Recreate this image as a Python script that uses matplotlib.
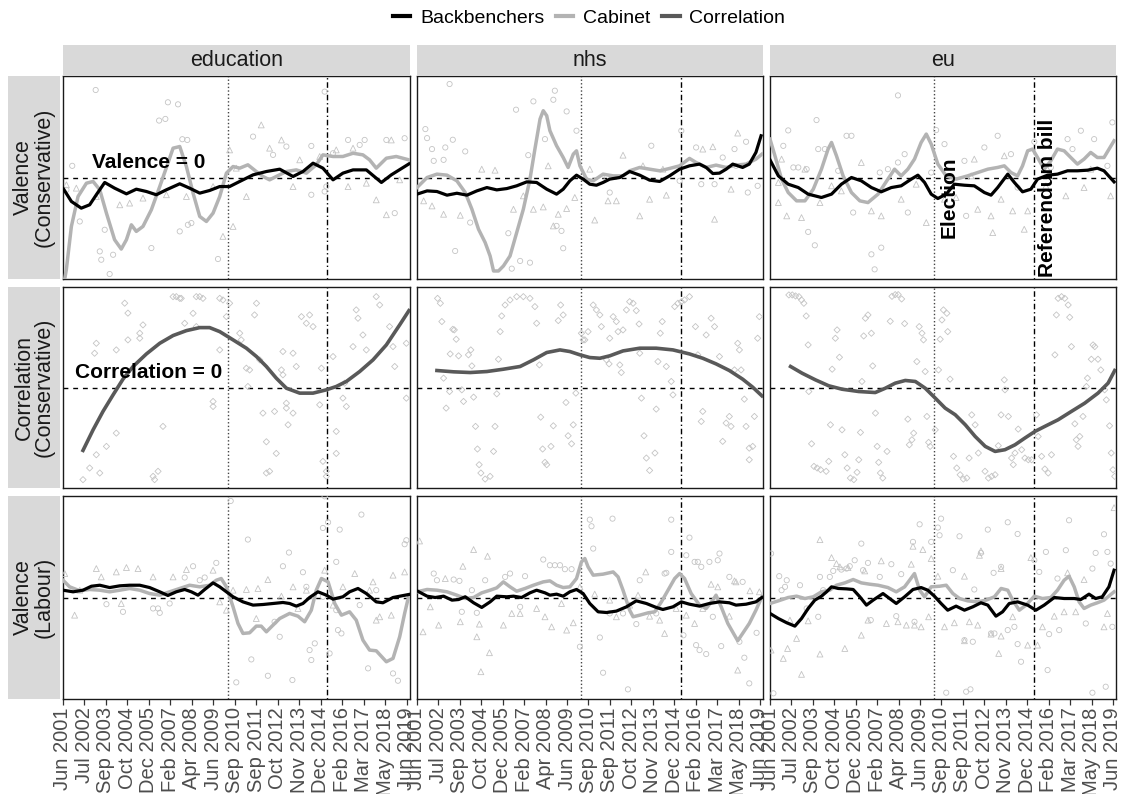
import matplotlib
matplotlib.use('Agg')
import matplotlib.pyplot as plt
from matplotlib.lines import Line2D
from matplotlib.patches import Rectangle

plt.rcParams['font.family'] = ['Liberation Sans', 'DejaVu Sans']

# ---------------- data ----------------
topics = ['education', 'nhs', 'eu']
row_labels = ['Valence\n(Conservative)', 'Correlation\n(Conservative)', 'Valence\n(Labour)']
tick_labels = ['Jun 2001', 'Jul 2002', 'Sep 2003', 'Oct 2004', 'Dec 2005', 'Feb 2007',
               'Apr 2008', 'Jun 2009', 'Sep 2010', 'Sep 2011', 'Oct 2012', 'Nov 2013',
               'Dec 2014', 'Feb 2016', 'Mar 2017', 'May 2018', 'Jun 2019']
election_x = 7.67
referendum_x = 12.3

# Row 1: Valence (Conservative) -- smoothed lines (x index, value)
edu_con_bb = [(0, -0.105), (0.39, -0.236), (0.85, -0.302), (1.24, -0.269), (1.55, -0.170), (1.94, -0.049),
              (2.40, -0.105), (2.95, -0.161), (3.41, -0.115), (3.88, -0.138), (4.34, -0.170), (4.81, -0.121),
              (5.43, -0.062), (5.89, -0.105), (6.36, -0.154), (6.82, -0.128), (7.29, -0.089), (7.75, -0.089),
              (8.22, -0.039), (8.84, 0.026), (9.46, 0.059), (10.08, 0.082), (10.70, 0.010), (11.16, 0.059),
              (11.63, 0.141), (12.09, 0.092), (12.56, -0.023), (13.02, 0.043), (13.49, 0.075), (14.11, 0.075),
              (14.81, -0.049), (15.27, 0.026), (16.09, 0.134)]
edu_con_cab = [(0.08, -1.0), (0.155, -0.908), (0.39, -0.482), (0.70, -0.187), (1.09, -0.056), (1.40, -0.039),
               (1.71, -0.121), (2.02, -0.351), (2.40, -0.613), (2.71, -0.705), (2.95, -0.613), (3.18, -0.466),
               (3.41, -0.531), (3.72, -0.482), (4.11, -0.318), (4.50, -0.089), (4.88, 0.141), (5.12, 0.289),
               (5.43, 0.305), (5.74, 0.108), (6.05, -0.154), (6.36, -0.384), (6.67, -0.433), (6.98, -0.351),
               (7.29, -0.187), (7.60, 0.043), (7.91, 0.108), (8.22, 0.092), (8.60, 0.125), (8.99, 0.059),
               (9.30, 0.010), (9.61, -0.023), (9.92, 0.010), (10.39, 0.059), (10.85, 0.075), (11.32, 0.043),
               (11.78, 0.125), (12.09, 0.223), (12.56, 0.207), (13.02, 0.207), (13.49, 0.239), (13.95, 0.223),
               (14.26, 0.174), (14.57, 0.092), (15.04, 0.190), (15.50, 0.207), (16.09, 0.174)]
nhs_con_bb = [(0, -0.164), (0.47, -0.132), (0.93, -0.138), (1.40, -0.174), (1.86, -0.155), (2.33, -0.174),
              (2.79, -0.132), (3.26, -0.099), (3.72, -0.122), (4.19, -0.109), (4.65, -0.082), (5.12, -0.043),
              (5.58, -0.049), (6.05, -0.115), (6.51, -0.164), (6.82, -0.115), (7.13, -0.033), (7.44, 0.023),
              (7.75, -0.016), (8.06, -0.066), (8.37, -0.076), (8.68, -0.049), (8.99, -0.016), (9.46, 0.0),
              (9.92, 0.059), (10.39, 0.023), (10.85, -0.026), (11.32, -0.039), (11.78, 0.016), (12.25, 0.082),
              (12.71, 0.115), (13.18, 0.132), (13.49, 0.099), (13.80, 0.039), (14.11, 0.043), (14.42, 0.082),
              (14.73, 0.132), (15.19, 0.099), (15.50, 0.132), (15.81, 0.247), (16.05, 0.411)]
nhs_con_cab = [(0, -0.099), (0.47, 0.0), (0.93, 0.033), (1.40, 0.023), (1.86, -0.033), (2.25, -0.148),
               (2.56, -0.312), (2.87, -0.510), (3.18, -0.641), (3.41, -0.773), (3.57, -0.921), (3.80, -0.921),
               (4.03, -0.872), (4.34, -0.773), (4.65, -0.543), (4.96, -0.313), (5.27, -0.016), (5.50, 0.280),
               (5.74, 0.576), (5.89, 0.658), (6.05, 0.609), (6.20, 0.461), (6.51, 0.313), (6.82, 0.197),
               (7.05, 0.099), (7.29, 0.230), (7.44, 0.263), (7.60, 0.115), (7.91, -0.016), (8.22, -0.033),
               (8.68, 0.033), (9.15, 0.016), (9.61, 0.016), (9.92, 0.066), (10.39, 0.099), (10.85, 0.082),
               (11.32, 0.066), (11.78, 0.089), (12.25, 0.115), (12.71, 0.188), (13.02, 0.148), (13.49, 0.099),
               (13.95, 0.122), (14.42, 0.099), (14.88, 0.122), (15.35, 0.132), (15.81, 0.181), (16.09, 0.230)]
eu_con_bb = [(0, 0.174), (0.39, 0.016), (0.85, -0.066), (1.32, -0.099), (1.78, -0.164), (2.40, -0.197),
             (2.87, -0.164), (3.33, -0.066), (3.80, 0.0), (4.26, -0.033), (4.73, -0.099), (5.19, -0.141),
             (5.66, -0.099), (6.12, -0.082), (6.59, -0.016), (6.90, 0.023), (7.21, -0.049), (7.52, -0.164),
             (7.83, -0.207), (8.22, -0.164), (8.60, -0.066), (9.07, -0.076), (9.53, -0.082), (10.0, -0.148),
             (10.31, -0.174), (10.62, -0.099), (11.09, 0.033), (11.40, -0.049), (11.78, -0.141), (12.17, -0.115),
             (12.48, -0.016), (12.95, 0.023), (13.41, 0.033), (13.88, 0.066), (14.34, 0.066), (14.81, 0.072),
             (15.27, 0.092), (15.58, 0.066), (16.05, -0.043)]
eu_con_cab = [(0, 0.378), (0.23, 0.214), (0.54, -0.016), (0.85, -0.148), (1.24, -0.230), (1.63, -0.230),
              (2.02, -0.115), (2.40, 0.082), (2.71, 0.280), (2.87, 0.345), (3.10, 0.214), (3.41, 0.016),
              (3.80, -0.148), (4.19, -0.230), (4.57, -0.247), (5.04, -0.164), (5.50, -0.016), (5.81, 0.082),
              (6.12, 0.016), (6.43, 0.082), (6.74, 0.181), (7.05, 0.345), (7.29, 0.428), (7.52, 0.329),
              (7.83, 0.132), (8.22, 0.016), (8.68, -0.016), (9.22, 0.016), (9.69, 0.049), (10.16, 0.082),
              (10.62, 0.099), (10.93, 0.115), (11.24, 0.049), (11.55, 0.016), (11.78, 0.115), (12.02, 0.263),
              (12.25, 0.280), (12.48, 0.197), (12.79, 0.082), (13.10, 0.164), (13.41, 0.280), (13.72, 0.263),
              (14.03, 0.197), (14.34, 0.132), (14.65, 0.181), (14.96, 0.247), (15.27, 0.197), (15.58, 0.197),
              (16.05, 0.362)]

# Row 2: Correlation (Conservative)
edu_corr = [(0.93, -0.626), (1.40, -0.421), (1.86, -0.238), (2.33, -0.073), (2.79, 0.083), (3.26, 0.209),
            (3.88, 0.334), (4.50, 0.440), (5.12, 0.517), (5.74, 0.566), (6.36, 0.596), (6.82, 0.596),
            (7.29, 0.556), (7.91, 0.474), (8.53, 0.391), (9.00, 0.308), (9.46, 0.209), (9.92, 0.093),
            (10.39, -0.007), (11.01, -0.056), (11.63, -0.056), (12.25, -0.023), (12.71, 0.010), (13.18, 0.060),
            (13.80, 0.159), (14.42, 0.275), (15.04, 0.424), (15.66, 0.623), (16.09, 0.765)]
nhs_corr = [(0.93, 0.169), (1.71, 0.156), (2.48, 0.149), (3.26, 0.159), (4.03, 0.182), (4.81, 0.209),
            (5.43, 0.275), (6.05, 0.348), (6.67, 0.374), (7.13, 0.358), (7.60, 0.325), (8.06, 0.298),
            (8.53, 0.291), (8.99, 0.315), (9.61, 0.364), (10.39, 0.391), (11.16, 0.391), (11.94, 0.374),
            (12.71, 0.334), (13.33, 0.291), (13.95, 0.235), (14.57, 0.169), (15.19, 0.083), (15.66, 0.003),
            (16.09, -0.083)]
eu_corr = [(0.96, 0.209), (1.50, 0.142), (2.12, 0.076), (2.74, 0.017), (3.36, -0.017), (4.14, -0.040),
           (4.91, -0.050), (5.38, -0.007), (5.84, 0.043), (6.31, 0.070), (6.78, 0.060), (7.24, -0.007),
           (7.71, -0.106), (8.17, -0.205), (8.64, -0.271), (9.11, -0.371), (9.57, -0.487), (10.04, -0.586),
           (10.50, -0.636), (10.96, -0.619), (11.43, -0.570), (11.89, -0.503), (12.36, -0.437), (12.82, -0.387),
           (13.44, -0.321), (14.06, -0.238), (14.68, -0.156), (15.30, -0.056), (15.77, 0.043), (16.08, 0.169)]

# Row 3: Valence (Labour)
edu_lab_bb = [(0, 0.072), (0.47, 0.056), (0.93, 0.072), (1.32, 0.111), (1.71, 0.121), (2.17, 0.098),
              (2.64, 0.115), (3.10, 0.121), (3.57, 0.121), (4.03, 0.098), (4.50, 0.056), (4.88, 0.020),
              (5.27, 0.056), (5.66, 0.079), (5.97, 0.056), (6.28, 0.023), (6.59, 0.079), (6.98, 0.144),
              (7.29, 0.105), (7.60, 0.056), (7.91, 0.007), (8.37, -0.043), (8.84, -0.075), (9.30, -0.069),
              (9.77, -0.059), (10.23, -0.049), (10.54, -0.059), (10.85, -0.085), (11.16, -0.059), (11.47, 0.0),
              (11.86, 0.056), (12.25, 0.023), (12.56, -0.016), (13.02, 0.007), (13.33, 0.056), (13.72, 0.089),
              (14.11, 0.039), (14.57, -0.043), (14.88, -0.052), (15.35, 0.0), (16.09, 0.030)]
edu_lab_cab = [(0, 0.170), (0.31, 0.105), (0.78, 0.066), (1.24, 0.079), (1.71, 0.072), (2.17, 0.056),
               (2.64, 0.072), (3.10, 0.089), (3.57, 0.072), (4.03, 0.039), (4.50, 0.023), (4.96, 0.056),
               (5.43, 0.089), (5.89, 0.121), (6.36, 0.105), (6.82, 0.121), (7.13, 0.170), (7.36, 0.187),
               (7.60, 0.105), (7.91, -0.092), (8.14, -0.256), (8.37, -0.354), (8.68, -0.348), (8.99, -0.282),
               (9.22, -0.282), (9.46, -0.338), (9.69, -0.289), (10.08, -0.207), (10.54, -0.157), (10.93, -0.184),
               (11.24, -0.239), (11.55, -0.125), (11.78, 0.072), (12.02, 0.187), (12.33, 0.154), (12.64, -0.059),
               (12.95, -0.174), (13.33, -0.141), (13.64, -0.223), (13.95, -0.420), (14.26, -0.518),
               (14.57, -0.525), (15.04, -0.633), (15.35, -0.600), (15.66, -0.387), (15.89, -0.157), (16.09, 0.023)]
nhs_lab_bb = [(0, 0.066), (0.47, 0.013), (0.85, 0.0), (1.24, 0.013), (1.63, -0.026), (1.94, -0.020),
              (2.25, 0.007), (2.64, -0.052), (3.02, -0.098), (3.41, -0.043), (3.72, 0.013), (4.19, 0.007),
              (4.50, 0.013), (4.88, 0.0), (5.27, 0.046), (5.58, 0.072), (5.97, 0.046), (6.20, 0.023),
              (6.51, 0.033), (6.82, 0.013), (7.13, 0.056), (7.44, 0.079), (7.75, 0.039), (8.06, -0.059),
              (8.45, -0.141), (8.84, -0.148), (9.30, -0.134), (9.77, -0.092), (10.23, -0.033), (10.70, -0.059),
              (11.16, -0.098), (11.47, -0.118), (11.94, -0.092), (12.33, -0.043), (12.71, -0.066),
              (13.18, -0.085), (13.64, -0.059), (14.11, -0.043), (14.57, -0.052), (14.88, -0.075),
              (15.35, -0.066), (15.81, -0.043), (16.09, 0.0)]
nhs_lab_cab = [(0, 0.056), (0.47, 0.079), (0.93, 0.072), (1.40, 0.056), (1.86, 0.023), (2.25, -0.010),
               (2.64, 0.0), (3.02, 0.046), (3.41, 0.072), (3.72, 0.095), (4.03, 0.154), (4.34, 0.105),
               (4.65, 0.062), (5.04, 0.089), (5.43, 0.121), (5.89, 0.154), (6.20, 0.164), (6.51, 0.121),
               (6.82, 0.098), (7.13, 0.105), (7.44, 0.187), (7.67, 0.351), (7.83, 0.384), (7.98, 0.302),
               (8.22, 0.220), (8.68, 0.230), (9.15, 0.252), (9.38, 0.203), (9.61, 0.072), (9.92, -0.125),
               (10.08, -0.190), (10.39, -0.174), (10.78, -0.151), (11.09, -0.141), (11.40, -0.043),
               (11.71, 0.072), (12.02, 0.187), (12.25, 0.236), (12.48, 0.187), (12.79, 0.039), (13.18, -0.075),
               (13.49, -0.108), (13.80, -0.026), (13.95, 0.023), (14.19, -0.092), (14.50, -0.256),
               (14.81, -0.371), (14.96, -0.426), (15.19, -0.354), (15.50, -0.256), (15.81, -0.125), (16.09, 0.007)]
eu_lab_bb = [(0, -0.157), (0.39, -0.207), (0.78, -0.249), (1.16, -0.282), (1.47, -0.207), (1.78, -0.108),
             (2.09, -0.026), (2.40, 0.013), (2.64, 0.056), (2.87, 0.105), (3.18, 0.089), (3.57, 0.085),
             (3.88, 0.079), (4.19, 0.007), (4.50, -0.075), (4.81, -0.026), (5.27, 0.039), (5.58, -0.010),
             (5.89, -0.059), (6.28, 0.007), (6.67, 0.079), (7.05, 0.098), (7.36, 0.072), (7.67, 0.013),
             (7.98, -0.059), (8.29, -0.125), (8.68, -0.085), (9.07, -0.125), (9.46, -0.092), (9.84, -0.052),
             (10.16, -0.075), (10.54, -0.184), (10.85, -0.141), (11.16, -0.059), (11.55, -0.043),
             (12.02, -0.075), (12.40, -0.125), (12.79, -0.075), (13.26, 0.0), (13.72, -0.010), (14.19, -0.010),
             (14.50, -0.020), (14.88, 0.033), (15.19, -0.010), (15.50, 0.007), (15.81, 0.105), (16.05, 0.269)]
eu_lab_cab = [(0, -0.059), (0.39, -0.033), (0.85, 0.0), (1.24, 0.013), (1.63, -0.010), (2.02, 0.007),
              (2.40, 0.056), (2.79, 0.072), (3.10, 0.121), (3.49, 0.144), (3.88, 0.177), (4.26, 0.144),
              (4.65, 0.131), (5.04, 0.121), (5.50, 0.098), (5.89, 0.056), (6.28, 0.105), (6.51, 0.170),
              (6.74, 0.236), (6.98, 0.072), (7.21, 0.007), (7.52, 0.105), (7.91, 0.111), (8.22, 0.121),
              (8.53, 0.039), (8.84, -0.010), (9.22, -0.033), (9.69, -0.043), (10.08, -0.026), (10.47, 0.007),
              (10.78, 0.089), (11.09, 0.072), (11.32, -0.026), (11.63, -0.125), (11.94, -0.075), (12.33, 0.013),
              (12.71, -0.010), (13.10, 0.0), (13.41, 0.072), (13.72, 0.170), (13.95, 0.210), (14.19, 0.105),
              (14.42, -0.043), (14.65, -0.108), (14.96, -0.075), (15.27, -0.052), (15.58, -0.026), (16.05, 0.056)]

# Raw observations (approximate): circles = cabinet, triangles = backbenchers, diamonds = correlations
edu_con_cab_pts = [(1.52, 0.862), (4.88, 0.741), (5.35, 0.721), (4.76, 0.577), (4.47, 0.561), (5.55, 0.377),
                   (5.78, 0.370), (0.43, 0.115), (0.78, -0.433), (0.16, -0.121), (1.94, -0.515), (1.71, -0.728),
                   (2.33, -0.761), (1.78, -0.810), (2.17, -0.951), (4.11, -0.695), (5.43, -0.531), (5.81, -0.466),
                   (5.97, -0.449), (7.21, -0.803), (8.84, 0.403), (9.77, 0.223), (10.39, 0.305), (11.55, 0.311),
                   (12.17, 0.846), (12.25, -0.089), (12.56, 0.239), (13.26, 0.370), (13.80, 0.321), (14.03, 0.370),
                   (15.04, 0.370), (15.43, -0.351), (15.89, 0.387), (12.17, -0.138), (11.55, -0.170)]
edu_con_bb_pts = [(0.16, -0.072), (0.62, -0.105), (1.55, -0.187), (2.64, -0.269), (3.10, -0.252), (3.72, -0.203),
                  (4.81, -0.170), (5.74, -0.187), (6.98, -0.089), (7.75, 0.272), (7.91, -0.482), (8.06, 0.092),
                  (8.53, -0.187), (9.22, 0.518), (9.61, 0.289), (10.16, 0.370), (11.01, 0.174), (11.94, 0.207),
                  (12.71, 0.272), (13.49, 0.289), (14.11, -0.056), (14.57, -0.220), (15.04, -0.367), (15.66, -0.023),
                  (7.44, -0.580), (10.70, -0.089), (13.26, -0.089), (15.27, 0.370)]
nhs_con_cab_pts = [(1.52, 0.921), (0.39, 0.477), (0.47, 0.388), (1.67, 0.372), (0.70, 0.280), (1.32, 0.296),
                   (2.25, 0.257), (0.78, 0.164), (1.24, 0.174), (5.19, 0.220), (5.43, 0.750), (6.36, 0.766),
                   (6.43, 0.855), (6.98, 0.651), (4.62, 0.668), (5.97, 0.378), (2.48, -0.444), (1.78, -0.724),
                   (4.26, -0.549), (4.42, -0.898), (4.81, -0.822), (5.27, -0.839), (6.82, -0.697), (6.74, -0.526),
                   (6.51, -0.477), (7.44, 0.461), (8.84, 0.0), (8.99, -0.148), (10.93, 0.313), (12.33, 0.461),
                   (12.25, -0.033), (13.02, 0.296), (14.81, 0.280), (15.35, 0.352), (15.89, -0.082), (15.43, -0.148),
                   (13.88, -0.066), (13.26, -0.066), (14.26, 0.197), (14.88, 0.115)]
nhs_con_bb_pts = [(0.31, -0.230), (0.70, -0.280), (1.24, -0.362), (2.02, -0.372), (3.02, 0.082), (3.64, 0.072),
                  (4.50, -0.313), (4.96, -0.181), (5.43, -0.313), (5.89, -0.290), (6.12, 0.115), (6.59, -0.362),
                  (6.36, -0.477), (6.98, -0.306), (7.36, -0.197), (8.29, -0.419), (8.91, -0.230), (9.30, -0.230),
                  (9.61, 0.220), (10.39, -0.378), (10.85, -0.214), (11.63, -0.174), (13.33, 0.280), (13.80, 0.303),
                  (14.96, 0.438), (13.88, -0.411), (14.65, -0.115), (11.47, 0.082), (10.54, 0.115), (8.06, 0.082)]
eu_con_cab_pts = [(5.97, 0.809), (2.17, 0.566), (0.85, 0.464), (3.57, 0.411), (3.80, 0.411), (0.62, 0.312),
                  (2.25, 0.280), (2.56, 0.280), (6.28, 0.230), (5.97, 0.148), (5.50, 0.082), (1.71, 0.082),
                  (1.09, 0.099), (1.32, 0.099), (5.12, 0.049), (3.18, 0.066), (6.43, -0.345), (3.88, -0.345),
                  (1.78, -0.536), (2.09, -0.668), (4.73, -0.757), (5.19, -0.691), (4.88, -0.905), (7.75, 0.467),
                  (8.14, 0.329), (9.07, 0.164), (10.0, 0.296), (10.62, 0.411), (11.24, 0.230), (12.33, 0.352),
                  (13.88, 0.378), (14.50, 0.461), (15.12, 0.378), (15.97, 0.543), (14.11, 0.280), (15.74, 0.115),
                  (9.15, -0.378), (7.52, 0.049), (11.55, -0.099), (13.10, 0.099)]
eu_con_bb_pts = [(0.54, 0.181), (0.39, -0.247), (0.78, -0.378), (1.47, -0.395), (1.63, 0.082), (2.33, -0.247),
                 (2.87, -0.082), (3.33, -0.132), (4.26, 0.148), (4.73, -0.329), (5.19, -0.378), (6.12, -0.214),
                 (6.82, -0.066), (7.29, -0.444), (8.14, -0.214), (8.68, -0.197), (9.38, 0.016), (9.69, -0.313),
                 (10.31, -0.378), (10.78, -0.214), (11.32, -0.329), (12.02, -0.329), (10.39, -0.543), (11.86, -0.510),
                 (12.87, -0.082), (13.80, -0.181), (14.65, -0.099), (15.89, -0.181), (10.93, 0.214), (9.53, 0.181),
                 (14.96, 0.082), (0.39, -0.049)]

edu_corr_pts = [(2.87, 0.839), (3.02, 0.740), (5.12, 0.904), (5.27, 0.904), (5.43, 0.887), (5.50, 0.887),
                (6.20, 0.904), (6.36, 0.904), (6.51, 0.887), (7.29, 0.887), (7.44, 0.871), (7.75, 0.838),
                (9.00, 0.838), (8.91, 0.722), (7.60, 0.705), (6.05, 0.738), (3.72, 0.623), (3.57, 0.540),
                (2.48, 0.374), (3.02, 0.474), (1.55, 0.440), (1.47, 0.341), (3.57, 0.490), (5.66, 0.639),
                (6.20, 0.606), (7.29, 0.374), (8.22, 0.540), (8.29, 0.474), (8.53, 0.192), (8.68, 0.175),
                (9.15, 0.275), (10.23, 0.358), (10.16, 0.175), (10.23, 0.126), (10.70, 0.341), (10.85, 0.209),
                (11.09, 0.705), (11.47, 0.722), (11.32, 0.639), (11.63, 0.606), (12.02, 0.192), (12.56, 0.308),
                (13.64, 0.772), (14.57, 0.904), (14.73, 0.821), (13.72, 0.689), (13.49, 0.407), (13.95, 0.523),
                (14.11, 0.374), (15.19, 0.606), (15.35, 0.407), (15.43, 0.209), (15.97, 0.440), (15.97, -0.106),
                (13.02, -0.106), (13.18, -0.189), (12.71, -0.437), (11.94, -0.172), (10.39, -0.156),
                (10.39, -0.205), (10.47, -0.371), (9.84, -0.238), (9.30, -0.255), (10.70, -0.255), (6.98, -0.189),
                (6.98, -0.139), (4.65, -0.387), (2.48, -0.454), (2.02, -0.586), (1.55, -0.669), (1.71, -0.851),
                (1.24, -0.801), (0.93, -0.917), (4.19, -0.884), (4.26, -0.917), (4.42, -0.834), (9.61, -0.834),
                (9.46, -0.851), (9.46, -0.540), (9.92, -0.656), (12.09, -0.735), (12.25, -0.834), (12.71, -0.656),
                (12.25, -0.884), (13.10, 0.043), (8.60, 0.010)]
nhs_corr_pts = [(0.96, 0.887), (1.09, 0.838), (1.16, 0.656), (1.67, 0.579), (1.74, 0.573), (1.83, 0.480),
                (1.55, 0.334), (1.94, 0.315), (2.40, 0.325), (2.51, 0.374), (2.56, 0.215), (1.24, 0.093),
                (1.52, -0.040), (2.09, -0.023), (2.17, -0.139), (2.64, -0.096), (1.36, -0.205), (2.73, -0.387),
                (2.82, -0.612), (3.57, -0.636), (2.90, -0.768), (2.98, -0.851), (3.18, -0.911), (3.41, -0.884),
                (3.64, -0.387), (3.72, -0.063), (3.80, 0.281), (3.88, 0.556), (3.95, 0.712), (4.11, 0.821),
                (4.34, 0.871), (4.65, 0.904), (4.96, 0.904), (5.27, 0.887), (5.50, 0.805), (5.58, 0.639),
                (5.71, 0.225), (5.77, -0.295), (5.86, -0.612), (5.97, -0.745), (6.05, -0.768), (6.25, -0.586),
                (6.36, -0.381), (6.59, 0.666), (6.70, 0.821), (6.82, 0.722), (6.95, -0.149), (7.05, -0.480),
                (7.21, -0.560), (7.29, -0.371), (7.41, -0.056), (7.67, 0.540), (7.83, 0.474), (7.98, 0.556),
                (7.75, 0.474), (8.22, 0.821), (8.37, 0.772), (8.53, 0.722), (8.60, 0.606), (8.84, 0.275),
                (8.96, 0.235), (8.99, 0.490), (9.15, 0.705), (9.30, 0.656), (9.38, 0.556), (9.61, 0.573),
                (9.46, 0.225), (9.53, 0.149), (9.77, 0.772), (9.92, 0.854), (10.08, 0.838), (10.23, 0.765),
                (10.36, 0.632), (10.39, 0.341), (10.47, -0.106), (10.59, -0.480), (10.70, -0.702), (10.85, -0.825),
                (11.10, -0.652), (11.16, -0.215), (11.24, 0.258), (11.35, 0.540), (11.44, 0.656), (11.63, 0.209),
                (11.86, 0.060), (11.94, -0.073), (12.02, 0.805), (12.17, 0.838), (12.33, 0.854), (12.48, 0.871),
                (12.71, 0.904), (12.99, 0.606), (13.10, 0.325), (13.33, -0.238), (13.26, -0.338), (13.49, 0.523),
                (13.72, 0.689), (13.88, 0.606), (14.11, 0.308), (14.26, -0.536), (14.42, -0.354), (14.65, -0.387),
                (14.57, -0.288), (14.81, 0.175), (14.96, 0.440), (15.04, 0.374), (15.12, 0.175), (15.27, -0.116),
                (15.35, -0.387), (15.50, -0.603), (15.66, -0.586), (15.50, -0.719), (15.74, -0.288), (15.89, 0.490),
                (15.97, 0.705)]
eu_corr_pts = [(0.88, 0.921), (1.04, 0.921), (1.19, 0.911), (1.35, 0.904), (1.47, 0.871), (1.58, 0.838),
               (1.69, 0.712), (1.78, 0.424), (2.90, 0.182), (3.05, 0.490), (3.13, 0.573), (3.24, 0.301),
               (4.37, 0.513), (4.45, 0.689), (4.57, 0.722), (4.73, 0.540), (4.79, 0.215), (4.29, 0.060),
               (5.69, 0.907), (5.84, 0.924), (5.98, 0.924), (6.14, 0.881), (5.61, 0.659), (6.28, 0.636),
               (6.85, 0.258), (6.96, 0.606), (7.09, 0.540), (7.16, 0.474), (7.24, 0.159), (7.94, 0.480),
               (8.02, 0.672), (8.09, 0.772), (8.25, 0.738), (8.29, 0.556), (7.86, 0.175), (8.40, 0.083),
               (1.81, -0.040), (2.82, -0.371), (3.36, -0.421), (4.22, -0.447), (1.94, -0.560), (2.05, -0.785),
               (2.20, -0.801), (2.36, -0.818), (2.62, -0.834), (2.74, -0.735), (3.49, -0.669), (3.60, -0.801),
               (3.75, -0.901), (3.91, -0.917), (4.06, -0.844), (4.14, -0.719), (4.92, -0.255), (5.00, -0.586),
               (5.07, -0.745), (5.15, -0.851), (5.26, -0.901), (5.46, -0.636), (6.43, -0.315), (6.62, -0.520),
               (6.70, -0.454), (6.50, -0.570), (7.32, -0.288), (7.40, -0.546), (7.47, -0.586), (7.71, -0.421),
               (8.56, -0.685), (8.71, -0.801), (8.87, -0.868), (9.02, -0.911), (9.18, -0.901), (9.29, -0.702),
               (9.41, -0.272), (9.57, -0.371), (9.72, -0.652), (10.03, -0.834), (10.19, -0.901), (10.34, -0.884),
               (10.50, -0.868), (10.65, -0.579), (10.78, -0.272), (10.93, 0.076), (10.96, -0.023), (11.12, -0.288),
               (11.27, -0.702), (11.35, -0.768), (11.43, -0.652), (11.58, -0.414), (11.74, -0.619), (11.89, -0.702),
               (12.05, -0.719), (12.20, -0.719), (12.43, -0.272), (12.51, -0.487), (12.67, -0.685), (12.82, -0.811),
               (12.98, -0.851), (13.13, -0.669), (13.29, 0.325), (13.36, 0.722), (13.44, 0.887), (13.60, 0.904),
               (13.75, 0.887), (13.91, 0.821), (13.98, 0.699), (14.06, 0.407), (14.22, -0.361), (14.29, -0.520),
               (14.37, -0.586), (14.45, -0.487), (14.60, -0.288), (14.76, 0.010), (14.81, 0.093), (14.99, 0.281),
               (15.07, 0.424), (15.15, 0.407), (15.30, 0.281), (15.43, 0.175), (15.61, -0.023), (15.69, -0.123),
               (15.84, -0.381), (15.92, -0.652), (16.00, -0.818), (16.08, -0.884)]

edu_lab_cab_pts = [(7.80, 0.951), (8.60, 0.571), (13.88, 0.817), (12.87, 0.669), (10.51, 0.443), (10.23, 0.308),
                   (12.17, 0.997), (12.09, 0.685), (12.33, 0.741), (12.71, 0.351), (11.16, 0.249), (7.13, 0.341),
                   (6.05, 0.308), (9.84, -0.239), (10.08, -0.387), (11.47, -0.518), (11.71, -0.452), (11.55, -0.616),
                   (12.40, -0.551), (8.76, -0.610), (8.06, -0.836), (9.53, -0.771), (10.67, -0.813), (14.19, -0.698),
                   (15.35, -0.748), (15.58, -0.820), (12.79, -0.321), (12.95, -0.354), (15.89, 0.525), (15.97, 0.564),
                   (2.79, -0.141), (2.02, -0.066), (4.19, -0.108), (4.50, -0.151), (4.42, -0.108), (4.96, -0.059),
                   (6.36, 0.170), (6.59, 0.197), (5.66, 0.197), (11.32, 0.105), (12.09, 0.007), (12.71, -0.125),
                   (13.80, -0.075), (14.57, 0.072)]
edu_lab_bb_pts = [(0.08, 0.236), (0.54, -0.174), (1.55, 0.285), (1.78, 0.203), (2.48, 0.252), (2.95, 0.295),
                  (3.49, 0.285), (4.19, 0.203), (5.12, 0.203), (5.74, 0.275), (6.98, 0.269), (7.29, -0.043),
                  (7.91, 0.072), (8.53, 0.079), (9.07, 0.089), (9.53, 0.177), (10.16, 0.013), (10.70, 0.105),
                  (11.32, 0.072), (12.17, 0.269), (13.02, 0.105), (13.57, 0.236), (14.26, 0.072), (14.57, -0.223),
                  (14.73, -0.190), (15.27, -0.174), (15.35, 0.220), (15.89, 0.252), (7.60, -0.125), (8.99, -0.207),
                  (10.93, -0.108), (12.56, -0.075), (14.42, 0.154), (2.71, -0.059), (0.78, 0.072)]
nhs_lab_cab_pts = [(8.06, 0.767), (8.14, 0.702), (9.12, 0.777), (8.22, 0.482), (11.86, 0.767), (12.71, 0.590),
                   (12.56, 0.416), (12.95, 0.351), (13.10, 0.351), (13.26, 0.302), (13.64, 0.351), (14.11, 0.433),
                   (14.03, 0.367), (11.63, 0.243), (11.86, 0.449), (5.89, 0.374), (6.20, 0.318), (6.43, 0.318),
                   (6.67, 0.318), (6.90, 0.279), (7.21, 0.279), (4.34, 0.236), (0.78, 0.236), (0.93, 0.170),
                   (1.71, 0.177), (1.98, 0.164), (2.56, 0.072), (3.18, 0.170), (4.11, 0.203), (5.04, 0.210),
                   (8.53, -0.394), (8.68, -0.741), (9.84, -0.905), (12.43, -0.372), (13.02, -0.469), (13.18, -0.518),
                   (13.49, -0.557), (14.19, -0.479), (15.04, -0.436), (15.27, -0.593), (15.50, -0.846), (15.84, -0.348),
                   (10.23, -0.262), (11.16, -0.157), (11.55, 0.236), (10.39, 0.170), (14.57, 0.203), (15.19, 0.154),
                   (4.81, -0.092), (2.79, -0.151), (2.09, -0.141), (7.60, -0.485), (9.61, -0.157), (8.99, -0.157),
                   (13.80, -0.190)]
nhs_lab_bb_pts = [(0.12, 0.557), (2.64, 0.472), (3.29, 0.407), (2.14, 0.308), (1.32, 0.187), (0.62, -0.092),
                  (1.01, -0.272), (0.28, -0.338), (2.02, -0.239), (2.79, -0.387), (2.91, -0.262), (2.98, -0.731),
                  (3.38, -0.544), (4.03, -0.272), (4.42, -0.157), (4.81, -0.157), (5.58, -0.108), (5.97, -0.190),
                  (6.28, -0.289), (6.74, -0.059), (6.98, -0.321), (7.29, -0.249), (7.60, 0.105), (8.29, 0.033),
                  (8.99, -0.026), (9.30, -0.190), (9.92, -0.075), (10.31, 0.023), (10.67, 0.252), (10.85, -0.184),
                  (11.32, -0.223), (11.55, -0.354), (12.09, -0.108), (12.56, -0.174), (12.95, -0.256), (13.33, -0.108),
                  (13.72, 0.131), (14.03, 0.105), (14.81, 0.164), (14.88, 0.154), (14.96, -0.715), (15.53, 0.066),
                  (15.97, 0.056), (14.57, -0.184)]
eu_lab_cab_pts = [(0.05, 0.433), (0.16, -0.944), (0.43, 0.210), (0.70, 0.105), (0.78, 0.170), (1.40, 0.121),
                  (2.33, 0.203), (2.48, 0.072), (2.79, 0.203), (2.95, 0.262), (3.33, 0.275), (3.57, 0.285),
                  (3.72, 0.308), (3.95, 0.367), (4.26, 0.531), (4.34, 0.269), (4.57, 0.341), (5.12, 0.203),
                  (5.66, 0.328), (6.12, 0.230), (6.67, 0.548), (6.98, 0.721), (7.52, 0.548), (7.83, 0.689),
                  (7.98, 0.777), (7.91, 0.613), (8.84, 0.603), (8.53, 0.269), (9.53, 0.079), (9.84, 0.439),
                  (10.16, 0.669), (10.43, 0.243), (10.78, 0.302), (11.09, 0.741), (11.55, 0.626), (11.55, -0.459),
                  (11.71, -0.633), (12.33, 0.367), (12.56, 0.252), (12.87, 0.449), (12.95, -0.715), (13.41, 0.187),
                  (13.80, 0.466), (13.95, 0.761), (15.04, 0.285), (15.19, 0.439), (15.58, 0.623), (15.74, 0.449),
                  (15.89, 0.334), (15.66, -0.879), (15.04, -0.938), (8.22, -0.938), (9.15, -0.928), (9.35, -0.905),
                  (9.07, -0.420), (9.46, -0.436), (10.31, -0.354), (10.47, -0.354), (11.09, -0.321), (11.40, -0.289),
                  (13.02, -0.361), (13.49, -0.321), (14.73, -0.256), (15.97, -0.289), (4.70, -0.223), (5.89, -0.184),
                  (2.25, -0.190), (6.74, -0.239), (1.71, -0.108), (0.54, 0.072)]
eu_lab_bb_pts = [(2.33, 0.570), (2.87, 0.393), (3.10, 0.334), (3.26, 0.302), (3.64, 0.295), (4.42, 0.262),
                 (5.19, 0.361), (6.59, 0.328), (6.67, 0.505), (7.13, 0.472), (7.52, 0.384), (7.83, 0.210),
                 (9.07, 0.210), (9.84, 0.459), (9.77, 0.416), (10.78, 0.285), (12.17, 0.393), (13.88, 0.243),
                 (14.65, 0.177), (16.05, 0.885), (0.05, -0.518), (0.62, -0.600), (0.82, -0.502), (1.24, -0.403),
                 (1.47, -0.757), (2.33, -0.557), (3.49, -0.502), (4.26, -0.371), (4.57, -0.223), (5.43, -0.256),
                 (5.97, -0.239), (6.36, -0.272), (6.74, -0.272), (7.05, -0.289), (7.40, -0.190), (8.14, -0.289),
                 (8.60, -0.249), (9.30, -0.239), (9.69, -0.272), (10.31, -0.361), (10.67, -0.551), (10.78, -0.380),
                 (11.32, -0.190), (12.02, -0.469), (12.48, -0.469), (12.71, -0.289), (13.26, -0.184), (13.72, -0.141),
                 (14.26, -0.141), (15.58, -0.289), (15.74, -0.157), (9.07, -0.426), (0.93, -0.223), (1.78, -0.230)]

# ---------------- styling ----------------
W, H = 1121, 794
C_BB = '#000000'
C_CAB = '#B3B3B3'
C_CORR = '#595959'
C_PT = '#C4C4C4'
STRIP_BG = '#D9D9D9'
col_px = [(63, 410), (417, 763), (770, 1116)]
row_px = [(76, 279), (287, 488), (496, 699)]

fig = plt.figure(figsize=(W / 100, H / 100), dpi=100)
fig.patch.set_facecolor('white')


def px_box(l, t, r, b):
    return [l / W, 1 - b / H, (r - l) / W, (b - t) / H]


def unzip(pts):
    return [p[0] for p in pts], [p[1] for p in pts]


row1 = [(edu_con_bb, edu_con_cab, edu_con_bb_pts, edu_con_cab_pts),
        (nhs_con_bb, nhs_con_cab, nhs_con_bb_pts, nhs_con_cab_pts),
        (eu_con_bb, eu_con_cab, eu_con_bb_pts, eu_con_cab_pts)]
row2 = [(edu_corr, edu_corr_pts), (nhs_corr, nhs_corr_pts), (eu_corr, eu_corr_pts)]
row3 = [(edu_lab_bb, edu_lab_cab, edu_lab_bb_pts, edu_lab_cab_pts),
        (nhs_lab_bb, nhs_lab_cab, nhs_lab_bb_pts, nhs_lab_cab_pts),
        (eu_lab_bb, eu_lab_cab, eu_lab_bb_pts, eu_lab_cab_pts)]

for r in range(3):
    for c in range(3):
        ax = fig.add_axes(px_box(col_px[c][0], row_px[r][0], col_px[c][1], row_px[r][1]))
        ax.set_xlim(0, 16.14)
        ax.set_ylim(-1.0, 1.0)
        ax.set_facecolor('white')
        for s in ax.spines.values():
            s.set_color('#1A1A1A')
            s.set_linewidth(1.0)
        # reference lines
        ax.axhline(0, color='black', lw=1.0, linestyle=(0, (3.5, 3.5)), zorder=2)
        ax.axvline(election_x, color='#444444', lw=1.0, linestyle=(0, (1, 1.6)), zorder=2)
        ax.axvline(referendum_x, color='black', lw=1.0, linestyle=(0, (1, 2, 4, 2)), zorder=2)

        if r == 1:
            line, pts = row2[c]
            px, py = unzip(pts)
            ax.scatter(px, py, marker='D', s=10, facecolors='none', edgecolors=C_PT, linewidths=0.6, zorder=3)
            lx, ly = unzip(line)
            ax.plot(lx, ly, color=C_CORR, lw=2.6, zorder=4)
        else:
            bb, cab, bbp, cabp = (row1 if r == 0 else row3)[c]
            px, py = unzip(cabp)
            ax.scatter(px, py, marker='o', s=14, facecolors='none', edgecolors=C_PT, linewidths=0.6, zorder=3)
            px, py = unzip(bbp)
            ax.scatter(px, py, marker='^', s=18, facecolors='none', edgecolors=C_PT, linewidths=0.6, zorder=3)
            lx, ly = unzip(cab)
            ax.plot(lx, ly, color=C_CAB, lw=2.5, zorder=4)
            lx, ly = unzip(bb)
            ax.plot(lx, ly, color=C_BB, lw=2.3, zorder=5)

        ax.set_yticks([])
        ax.set_xticks(range(len(tick_labels)))
        if r == 2:
            ax.set_xticklabels(tick_labels, rotation=90, fontsize=14.5, color='#4D4D4D')
            ax.tick_params(axis='x', length=4, width=0.9, color='#333333', pad=2)
        else:
            ax.set_xticklabels([])
            ax.tick_params(axis='x', length=0)

        # annotations
        if r == 0 and c == 0:
            ax.text(4.0, 0.15, 'Valence = 0', fontsize=15, fontweight='bold', ha='center', va='center', zorder=6)
        if r == 1 and c == 0:
            ax.text(4.0, 0.15, 'Correlation = 0', fontsize=15, fontweight='bold', ha='center', va='center', zorder=6)
        if r == 0 and c == 2:
            ax.text(election_x + 0.7, -0.19, 'Election', fontsize=15, fontweight='bold', rotation=90,
                    ha='center', va='center', zorder=6)
            ax.text(referendum_x + 0.65, -0.2, 'Referendum bill', fontsize=15, fontweight='bold', rotation=90,
                    ha='center', va='center', zorder=6)

# column strips
for c in range(3):
    sax = fig.add_axes(px_box(col_px[c][0], 45, col_px[c][1], 76))
    sax.set_xlim(0, 1)
    sax.set_ylim(0, 1)
    sax.axis('off')
    sax.add_patch(Rectangle((0, 0), 1, 1, facecolor=STRIP_BG, edgecolor='none'))
    sax.text(0.5, 0.5, topics[c], ha='center', va='center', fontsize=15.5, color='#1A1A1A')

# row strips
for r in range(3):
    sax = fig.add_axes(px_box(8, row_px[r][0], 60, row_px[r][1]))
    sax.set_xlim(0, 1)
    sax.set_ylim(0, 1)
    sax.axis('off')
    sax.add_patch(Rectangle((0, 0), 1, 1, facecolor=STRIP_BG, edgecolor='none'))
    sax.text(0.5, 0.5, row_labels[r], ha='center', va='center', rotation=90, fontsize=15.5,
             color='#1A1A1A', linespacing=0.95)

# legend
handles = [Line2D([], [], color=C_BB, lw=3), Line2D([], [], color=C_CAB, lw=3), Line2D([], [], color=C_CORR, lw=3)]
fig.legend(handles, ['Backbenchers', 'Cabinet', 'Correlation'], loc='center',
           bbox_to_anchor=(589 / W, 1 - 18 / H), ncol=3, frameon=False, fontsize=14,
           handlelength=0.9, handletextpad=0.5, columnspacing=0.6)

fig.savefig('out.png', dpi=100, facecolor='white')
